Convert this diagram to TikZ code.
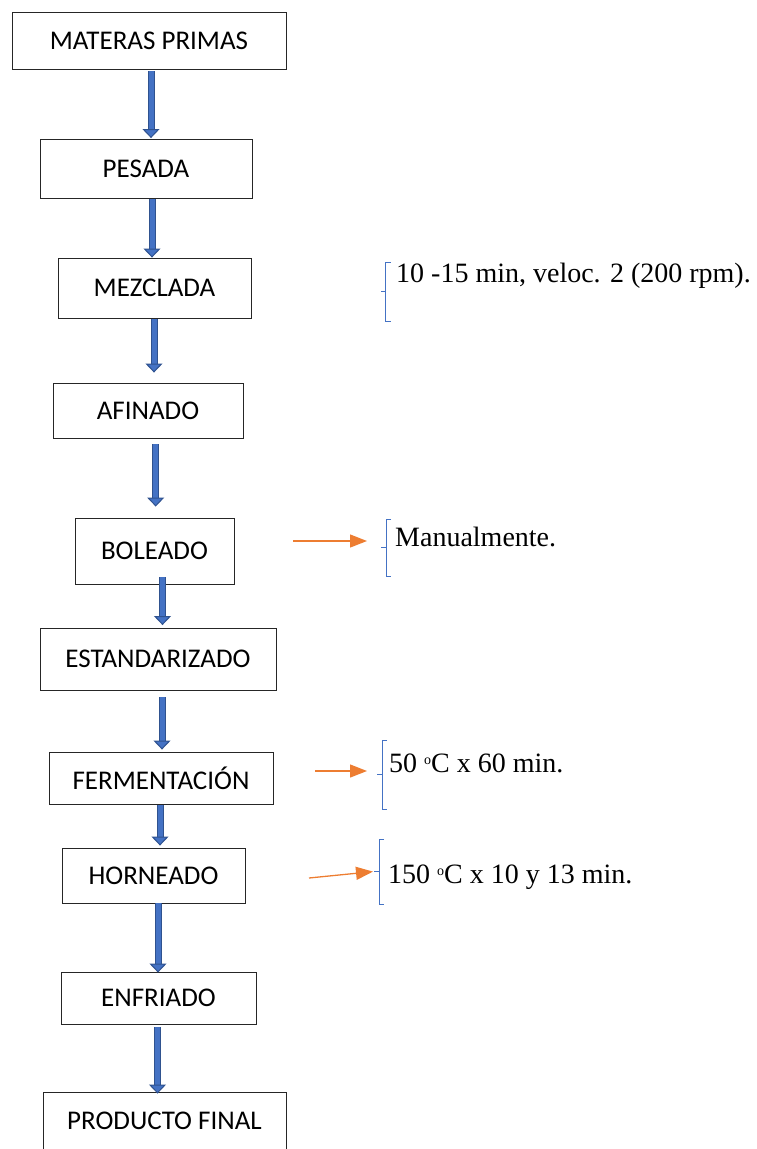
\documentclass[tikz,border=0pt]{standalone}
\usepackage{fontspec}
\setmainfont{Liberation Serif}
\newfontfamily\boxfont{Carlito}
\usetikzlibrary{arrows.meta}
\definecolor{flowfill}{HTML}{4472C4}
\definecolor{flowedge}{HTML}{2F528F}
\definecolor{noteorange}{HTML}{ED7D31}
\definecolor{notebrace}{HTML}{4472C4}
\definecolor{stepborder}{HTML}{262626}
\tikzset{
  process step/.style={
    rectangle, draw=stepborder, fill=white, line width=0.9pt,
    inner sep=0pt, text=black,
    font=\boxfont\fontsize{27}{31}\selectfont
  },
  flow arrow/.style={
    draw=flowedge, line width=1pt, double=flowfill, double distance=5pt,
    -{Triangle[width=17pt,length=9pt,line width=1pt,fill=flowfill]}
  },
  note arrow/.style={
    draw=noteorange, line width=1.3pt,
    -{Triangle[width=13pt,length=17pt]}
  },
  note brace/.style={draw=notebrace, line width=1pt},
  note text/.style={
    anchor=base west, inner sep=0pt,
    font=\fontsize{28}{33}\selectfont
  }
}
% small raised o of the temperatures
\newcommand{\gradsign}{\raisebox{7.5pt}{\fontsize{14}{14}\selectfont o}}
% #1 name of the tick, #2 x, #3 top, #4 bottom
\newcommand{\notebrace}[4]{%
  \draw[note brace] (#2+5,#3) -- (#2,#3) -- (#2,#4) -- (#2+5,#4);
  \draw[note brace] (#2,{(#3+#4)/2}) -- (#2-5,{(#3+#4)/2}) coordinate (#1);
}

\begin{document}
\begin{tikzpicture}[x=1pt,y=-1pt]
  \useasboundingbox (0,0) rectangle (756,1149);
  \clip (0,0) rectangle (756,1149);

  % process steps
  \node[process step,minimum width=274pt,minimum height=57pt] (matp) at (149,40.5) {MATERAS PRIMAS};
  \node[process step,minimum width=212pt,minimum height=59pt] (pesada) at (146,168.5) {PESADA};
  \node[process step,minimum width=193pt,minimum height=60pt] (mezcla) at (154.5,288) {MEZCLADA};
  \node[process step,minimum width=190pt,minimum height=55pt] (afinado) at (148,410.5) {AFINADO};
  \node[process step,minimum width=159pt,minimum height=66pt] (boleado) at (154.5,551) {BOLEADO};
  \node[process step,minimum width=236pt,minimum height=62pt] (estand) at (158,659) {ESTANDARIZADO};
  \node[process step,minimum width=224pt,minimum height=52pt] (ferment) at (161,778) {FERMENTACIÓN};
  \node[process step,minimum width=183pt,minimum height=55pt] (horneado) at (153.5,875.5) {HORNEADO};
  \node[process step,minimum width=195pt,minimum height=52pt] (enfriado) at (158.5,998) {ENFRIADO};
  \node[process step,minimum width=243pt,minimum height=58pt] (producto) at (164.5,1121) {PRODUCTO FINAL};

  % flow between the steps
  \draw[flow arrow,shorten <=2pt,shorten >=0.5pt] ([xshift=2pt]matp.south) -- ([xshift=5pt]pesada.north);
  \draw[flow arrow,shorten <=1pt] ([xshift=6pt]pesada.south) -- ([xshift=-2.5pt]mezcla.north);
  \draw[flow arrow,shorten <=1pt,shorten >=10pt] ([xshift=-0.5pt]mezcla.south) -- ([xshift=6pt]afinado.north);
  \draw[flow arrow,shorten <=6pt,shorten >=11pt] ([xshift=7.7pt]afinado.south) -- ([xshift=1.2pt]boleado.north);
  \draw[flow arrow,shorten <=-7pt,shorten >=2.5pt] ([xshift=8pt]boleado.south) -- ([xshift=4.5pt]estand.north);
  \draw[flow arrow,shorten <=7pt,shorten >=2pt] ([xshift=4pt]estand.south) -- ([xshift=1pt]ferment.north);
  \draw[flow arrow,shorten <=1pt,shorten >=2pt] ([xshift=-1pt]ferment.south) -- ([xshift=6.5pt]horneado.north);
  \draw[flow arrow,shorten >=-1pt] ([xshift=4.5pt]horneado.south) -- ([xshift=-0.5pt]enfriado.north);
  \draw[flow arrow,shorten <=3pt,shorten >=-2pt] ([xshift=-1pt]enfriado.south) -- ([xshift=-7pt]producto.north);

  % notes
  \notebrace{mezclatick}{385.5}{262}{321}
  \node[note text] (mezclanote) at (396,282) {10 -15 min, veloc. 2 (200 rpm).};

  \notebrace{boleadotick}{386}{519}{576}
  \node[note text] (boleadonote) at (395,546.5) {Manualmente.};
  \coordinate (boleadofrom) at (293,541);
  \draw[note arrow,shorten >=14pt] (boleadofrom) -- (boleadotick |- boleadofrom);

  \notebrace{fermenttick}{382}{740}{809}
  \node[note text] (fermentnote) at (389,772) {50 \gradsign C x 60 min.};
  \coordinate (fermentfrom) at (315,771);
  \draw[note arrow,shorten >=10pt] (fermentfrom) -- (fermenttick |- fermentfrom);

  \notebrace{horneadotick}{379}{839}{904}
  \node[note text] (horneadonote) at (388,883) {150 \gradsign C x 10 y 13 min.};
  \coordinate (horneadofrom) at (309,878);
  \draw[note arrow,shorten >=1pt] (horneadofrom) -- (horneadotick);
\end{tikzpicture}
\end{document}
